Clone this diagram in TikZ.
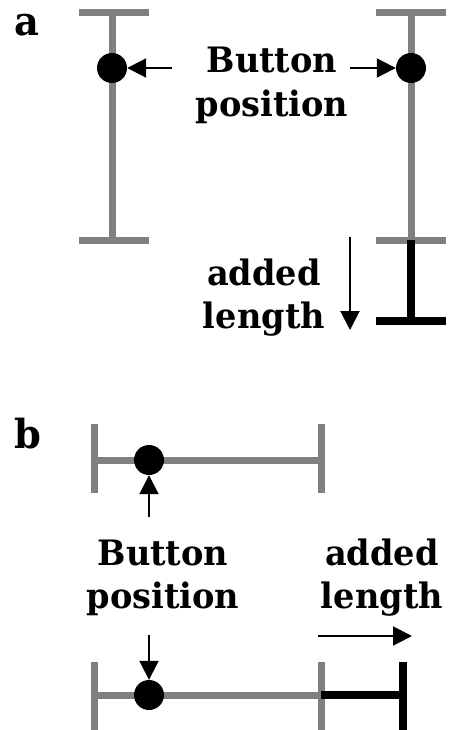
\documentclass[tikz,border=0pt]{standalone}
\usepackage{fontspec}
\setmainfont{DejaVu Serif}[FakeStretch=0.96]
\usetikzlibrary{arrows.meta}
\begin{document}
\begin{tikzpicture}[x=1pt,y=-1pt,
  graybar/.style={draw=black!50, line width=7pt},
  blackbar/.style={draw=black, line width=8pt},
  dotnode/.style={circle, fill=black, inner sep=0pt, minimum size=30pt},
  ptr/.style={line width=2pt, -{Triangle[length=19pt,width=19pt]}},
  lbl/.style={font=\fontsize{35}{44}\selectfont\bfseries, inner sep=0pt, anchor=base},
  panel/.style={font=\fontsize{40}{44}\selectfont\bfseries, inner sep=0pt, anchor=base west}]
\useasboundingbox (0,0) rectangle (449,730);
% ---------- panel a ----------
\node[panel] (la) at (14,36) {a};
% left bar
\coordinate (aLt) at (112,13); \coordinate (aLb) at (112,240);
\draw[graybar] (aLt) -- (aLb);
\draw[graybar] (79,13) -- (149,13);
\draw[graybar] (79,240) -- (149,240);
\node[dotnode] (dA1) at (112,68) {};
% right bar
\coordinate (aRt) at (411,13); \coordinate (aRm) at (411,240); \coordinate (aRb) at (411,321);
\draw[graybar] (aRt) -- (aRm);
\draw[graybar] (376,13) -- (446,13);
\draw[graybar] (376,240) -- (446,240);
\draw[blackbar] (aRm) -- (aRb);
\draw[blackbar] (376,321) -- (446,321);
\node[dotnode] (dA2) at (411,68) {};
% labels
\node[lbl] (btA) at (272,73) {Button};
\node[lbl] (psA) at (272,117) {position};
\coordinate (a1s) at (172,68);
\coordinate (a2s) at (350,68);
\draw[ptr] (a1s) -- (dA1.east);
\draw[ptr] (a2s) -- (dA2.west);
\node[lbl] (adA) at (264,285) {added};
\node[lbl] (lnA) at (264,328) {length};
\coordinate (a3s) at (350,237); \coordinate (a3e) at (350,330);
\draw[ptr] (a3s) -- (a3e);
% ---------- panel b ----------
\node[panel] (lb) at (14,448) {b};
% top bar
\draw[graybar] (94,460) -- (321,460);
\draw[graybar] (94,424) -- (94,493);
\draw[graybar] (321,424) -- (321,493);
\node[dotnode] (dB1) at (149,460) {};
% bottom bar
\draw[graybar] (94,695) -- (321,695);
\draw[graybar] (94,662) -- (94,730);
\draw[graybar] (321,662) -- (321,730);
\draw[blackbar] (321,695) -- (403,695);
\draw[blackbar] (403,662) -- (403,730);
\node[dotnode] (dB2) at (149,695) {};
% labels
\node[lbl] (btB) at (163,565) {Button};
\node[lbl] (psB) at (163,608) {position};
\node[lbl] (adB) at (382,565) {added};
\node[lbl] (lnB) at (382,608) {length};
\coordinate (b1s) at (149,517);
\coordinate (b2s) at (149,635);
\draw[ptr] (b1s) -- (dB1.south);
\draw[ptr] (b2s) -- (dB2.north);
\coordinate (b3s) at (318,636); \coordinate (b3e) at (412,636);
\draw[ptr] (b3s) -- (b3e);
\end{tikzpicture}
\end{document}
